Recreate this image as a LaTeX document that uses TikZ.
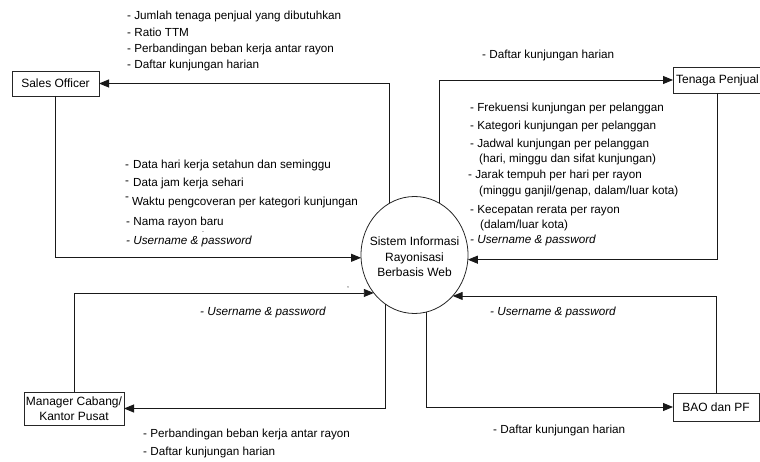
\documentclass[tikz,border=0pt]{standalone}
\usepackage{fontspec}
\setmainfont{Liberation Sans}
\usetikzlibrary{arrows.meta,shapes.geometric}
\tikzset{
  unitbox/.style={draw=black!85, line width=0.8pt, fill=white, inner sep=0pt, outer sep=0pt,
    font=\fontsize{12}{15.5}\selectfont, align=center},
  proc/.style={draw=black!85, line width=0.8pt, ellipse, inner sep=0pt, outer sep=0pt},
  lbl/.style={anchor=base west, inner sep=0pt, font=\fontsize{11.7}{14}\selectfont},
  ilbl/.style={lbl, font=\fontsize{11.7}{14}\selectfont\itshape},
  flow/.style={draw=black!90, line width=0.9pt, -{Triangle[length=10pt,width=8pt]}},
  speck/.style={inner sep=0pt, font=\fontsize{7}{7}\selectfont}
}
\begin{document}
\begin{tikzpicture}[x=1pt, y=-1pt]
\useasboundingbox (0,0) rectangle (760,462);

% external entities
\node[unitbox, minimum width=87pt, minimum height=25pt] (so) at (55.5,83.5) {Sales Officer};
\node[unitbox, minimum width=89pt, minimum height=26pt] (tp) at (717.5,80) {Tenaga Penjual};
\node[unitbox, minimum width=100pt, minimum height=33pt] (man) at (74,408.5) {Manager Cabang/\\Kantor Pusat};
\node[unitbox, minimum width=86pt, minimum height=28pt] (bao) at (716,407) {BAO dan PF};

% central process
\node[proc, minimum width=107pt, minimum height=117pt] (sis) at (414.5,255) {};
\node[inner sep=0pt, align=center, font=\fontsize{12}{15.5}\selectfont] (sistxt) at (414.5,257) {Sistem Informasi\\Rayonisasi\\Berbasis Web};

% data flows
\draw[flow] (sis.116.4) |- (so.east);
\draw[flow] (so.south) |- (sis.183.2);
\draw[flow] (sis.64.8) |- (tp.west);
\draw[flow] (tp.south) |- (sis.355.7);
\draw[flow] (man.north) |- (sis.223);
\draw[flow] (sis.240.1) |- (man.east);
\draw[flow] (bao.north) |- (sis.313);
\draw[flow] (sis.282.4) |- (bao.west);

% outputs to Sales Officer
\node[lbl] (o1) at (127,20) {- Jumlah tenaga penjual yang dibutuhkan};
\node[lbl] (o2) at (127,36.5) {- Ratio TTM};
\node[lbl] (o3) at (127,52.5) {- Perbandingan beban kerja antar rayon};
\node[lbl] (o4) at (127,68.5) {- Daftar kunjungan harian};

% inputs from Sales Officer
\node[lbl] (i1) at (125,169) {-\hspace{4pt}Data hari kerja setahun dan seminggu};
\node[lbl] (i2) at (125,187) {\raisebox{2pt}{-}\hspace{4pt}Data jam kerja sehari};
\node[lbl] (i3) at (125,206) {\raisebox{5pt}{-}\hspace{3pt}Waktu pengcoveran per kategori kunjungan};
\node[lbl] (i4) at (126,226) {- Nama rayon baru};
\node[ilbl] (i5) at (126,245) {- Username \& password};
\node[speck] (dot1) at (203,232.5) {.};

% Tenaga Penjual
\node[lbl] (t0) at (482,59) {- Daftar kunjungan harian};
\node[lbl] (t1) at (470,112) {- Frekuensi kunjungan per pelanggan};
\node[lbl] (t2) at (470,130) {- Kategori kunjungan per pelanggan};
\node[lbl] (t3) at (470,148) {- Jadwal kunjungan per pelanggan};
\node[lbl] (t3b) at (479,163) {(hari, minggu dan sifat kunjungan)};
\node[lbl] (t4) at (468,179) {- Jarak tempuh per hari per rayon};
\node[lbl] (t4b) at (479,195) {(minggu ganjil/genap, dalam/luar kota)};
\node[lbl] (t5) at (470,214) {- Kecepatan rerata per rayon};
\node[lbl] (t5b) at (480,229) {(dalam/luar kota)};
\node[ilbl] (t6) at (470,244) {- Username \& password};

% Manager Cabang / Kantor Pusat
\node[ilbl] (m1) at (200,316) {- Username \& password};
\node[lbl] (m2) at (143,437) {- Perbandingan beban kerja antar rayon};
\node[lbl] (m3) at (143,455) {- Daftar kunjungan harian};
\node[speck] (cm1) at (348,288) {,};

% BAO dan PF
\node[ilbl] (b1) at (490,316) {- Username \& password};
\node[lbl] (b2) at (493,433) {- Daftar kunjungan harian};
\end{tikzpicture}
\end{document}
